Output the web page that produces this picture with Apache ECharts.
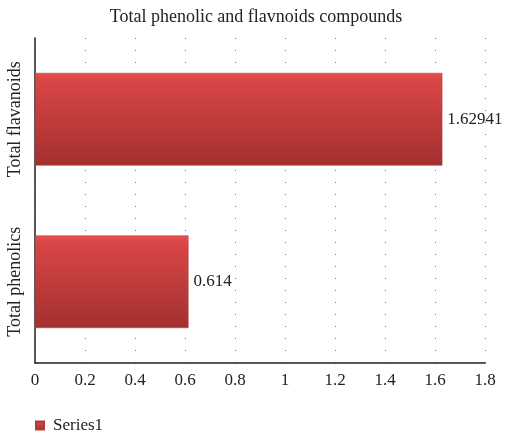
<!DOCTYPE html>
<html>
<head>
<meta charset="utf-8">
<script src="https://cdn.jsdelivr.net/npm/echarts@6/dist/echarts.min.js"></script>
<style>
  html, body { margin: 0; padding: 0; background: #fff; }
  #chart { width: 512px; height: 439px; }
</style>
</head>
<body>
<div id="chart"></div>
<script>
var categories = ['Total phenolics', 'Total flavanoids'];
var series1 = [0.614, 1.62941];
var valueLabels = ['0.614', '1.62941'];
var xTicks = [0, 0.2, 0.4, 0.6, 0.8, 1, 1.2, 1.4, 1.6, 1.8];

var serif = '"Liberation Serif", "DejaVu Serif", serif';
var myChart = echarts.init(document.getElementById('chart'));
var option = {
    animation: false,
    title: {
        text: 'Total phenolic and flavnoids compounds',
        left: 'center',
        top: 3,
        textStyle: { fontFamily: serif, fontSize: 18, fontWeight: 'normal', color: '#222' }
    },
    legend: {
        left: 30,
        bottom: 0,
        itemWidth: 8,
        itemHeight: 8,
        itemGap: 10,
        icon: 'rect',
        textStyle: { fontFamily: serif, fontSize: 17, color: '#222', padding: [0, 0, 0, 4] },
        data: ['Series1']
    },
    grid: { left: 35, right: 27, top: 38, bottom: 76 },
    xAxis: {
        type: 'value',
        min: xTicks[0],
        max: xTicks[xTicks.length - 1],
        interval: 0.2,
        axisLine: { show: true, lineStyle: { color: '#222', width: 1.5 } },
        axisTick: { show: false },
        axisLabel: { fontFamily: serif, fontSize: 17, color: '#222', margin: 9 },
        splitLine: { show: true, lineStyle: { type: [1, 11], color: '#777', width: 1 } }
    },
    yAxis: {
        type: 'category',
        data: categories,
        axisLine: { show: true, lineStyle: { color: '#222', width: 1.5 } },
        axisTick: { show: false },
        axisLabel: { rotate: 90, fontFamily: serif, fontSize: 18, color: '#222', margin: 11 }
    },
    series: [{
        name: 'Series1',
        type: 'bar',
        barWidth: '57%',
        data: series1,
        itemStyle: {
            color: new echarts.graphic.LinearGradient(0, 0, 0, 1, [
                { offset: 0, color: '#e65050' },
                { offset: 0.08, color: '#d94646' },
                { offset: 1, color: '#a33030' }
            ]),
            borderColor: '#b23a3a',
            borderWidth: 0.5
        },
        label: {
            show: true,
            position: 'right',
            distance: 5,
            fontFamily: serif,
            fontSize: 17,
            color: '#222',
            formatter: function (p) { return valueLabels[p.dataIndex]; }
        }
    }]
};
myChart.setOption(option);
</script>
</body>
</html>
